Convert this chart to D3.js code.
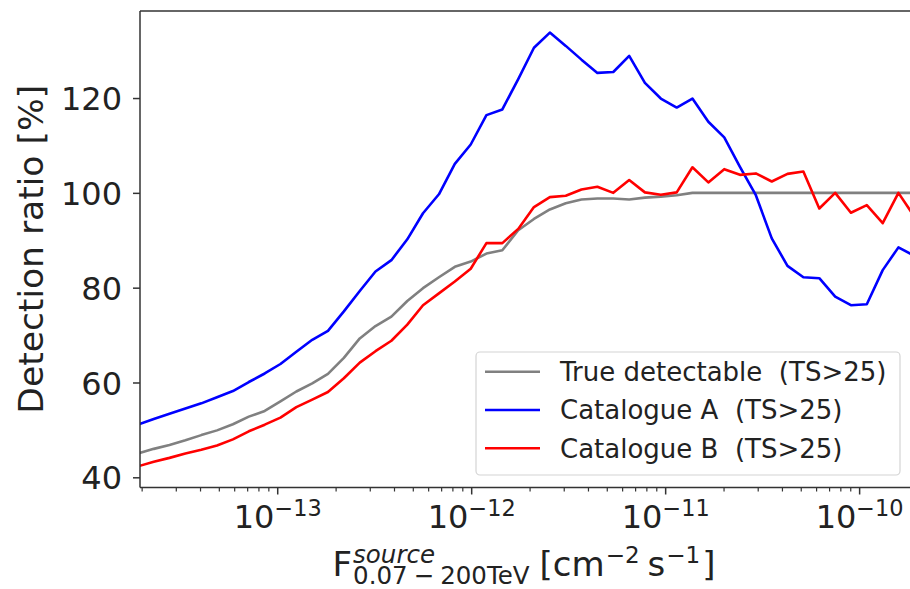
<!DOCTYPE html>
<html>
<head>
<meta charset="utf-8">
<script src="https://cdn.jsdelivr.net/npm/d3@7"></script>
<style>
  html, body { margin: 0; padding: 0; background: #fff; }
  svg { display: block; font-family: "DejaVu Sans", sans-serif; }
</style>
</head>
<body>
<svg id="chart" width="910" height="589"></svg>
<script>
// log10 of the source flux at each sample (cm^-2 s^-1)
const fluxExp = [
  -13.721, -13.639, -13.558, -13.476, -13.394, -13.313, -13.231, -13.149, -13.067, -12.986,
  -12.904, -12.822, -12.741, -12.659, -12.577, -12.496, -12.414, -12.332, -12.251, -12.169,
  -12.087, -12.005, -11.924, -11.842, -11.760, -11.679, -11.597, -11.515, -11.434, -11.352,
  -11.270, -11.188, -11.107, -11.025, -10.943, -10.862, -10.780, -10.698, -10.617, -10.535,
  -10.453, -10.372, -10.290, -10.208, -10.126, -10.045,  -9.963,  -9.881,  -9.800,  -9.718
];

// detection ratio [%]
const trueDetectable = [
  45.0, 46.0, 46.8, 47.8, 48.9, 49.9, 51.2, 52.8, 54.0, 56.0,
  58.1, 59.8, 61.8, 65.2, 69.3, 71.9, 73.9, 77.2, 79.9, 82.2,
  84.4, 85.5, 87.2, 87.9, 92.1, 94.5, 96.5, 97.8, 98.6, 98.8,
  98.8, 98.6, 99.0, 99.2, 99.5, 100, 100, 100, 100, 100,
  100, 100, 100, 100, 100, 100, 100, 100, 100, 100
];
const catalogueA = [
  51.1, 52.3, 53.4, 54.5, 55.6, 56.9, 58.2, 60.1, 61.9, 63.9,
  66.5, 69.0, 70.9, 75.0, 79.3, 83.4, 85.8, 90.2, 95.7, 99.7,
  106.1, 110.2, 116.4, 117.6, 124.0, 130.6, 133.8, 131.0, 128.1, 125.3,
  125.5, 128.9, 123.2, 119.9, 118.0, 119.9, 115.0, 111.7, 105.5, 99.5,
  90.4, 84.6, 82.2, 82.0, 78.1, 76.3, 76.5, 83.7, 88.5, 86.7
];
const catalogueB = [
  42.3, 43.3, 44.1, 45.0, 45.8, 46.7, 48.0, 49.7, 51.1, 52.6,
  54.8, 56.4, 58.0, 60.9, 64.2, 66.6, 68.8, 72.2, 76.3, 78.8,
  81.3, 84.0, 89.4, 89.4, 92.4, 97.0, 99.1, 99.4, 100.7, 101.3,
  100.0, 102.7, 100.1, 99.6, 100.1, 105.4, 102.2, 105.0, 103.8, 104.1,
  102.4, 104.0, 104.5, 96.7, 100.0, 95.8, 97.4, 93.6, 100.0, 95.0
];

const seriesNames = ["True detectable  (TS>25)", "Catalogue A  (TS>25)", "Catalogue B  (TS>25)"];
const seriesColors = ["#808080", "#0000ff", "#ff0000"];
const seriesValues = [trueDetectable, catalogueA, catalogueB];

const yTickValues = [40, 60, 80, 100, 120];
const xMajorExp = [-13, -12, -11, -10];
const xDomainExp = [-13.71, -9.73];
const yDomain = [37.85, 138.36];

const svg = d3.select("#chart");
const plot = { left: 140, top: 11, right: 912, bottom: 487.5 };
const textColor = "#222";
const spineColor = "#333";

const x = d3.scaleLog()
  .domain(xDomainExp.map(e => Math.pow(10, e)))
  .range([plot.left, plot.right]);
const y = d3.scaleLinear().domain(yDomain).range([plot.bottom, plot.top]);

svg.append("defs").append("clipPath").attr("id", "plotClip")
  .append("rect")
  .attr("x", plot.left).attr("y", plot.top)
  .attr("width", plot.right - plot.left).attr("height", plot.bottom - plot.top);

// curves
const line = d3.line()
  .x(d => x(Math.pow(10, d[0])))
  .y(d => y(d[1]));

const curves = svg.append("g").attr("clip-path", "url(#plotClip)");
seriesValues.forEach((vals, i) => {
  curves.append("path")
    .datum(fluxExp.map((e, k) => [e, vals[k]]))
    .attr("d", line)
    .attr("fill", "none")
    .attr("stroke", seriesColors[i])
    .attr("stroke-width", 2.6)
    .attr("stroke-linejoin", "round");
});

// y axis
const yAxis = d3.axisLeft(y).tickValues(yTickValues).tickSize(7).tickPadding(11);
const gy = svg.append("g").attr("transform", `translate(${plot.left},0)`).call(yAxis);
gy.select(".domain").remove();
gy.selectAll(".tick line").attr("stroke", spineColor).attr("stroke-width", 1.5);
gy.selectAll(".tick text")
  .attr("fill", textColor)
  .style("font-size", "32px")
  .style("font-family", "DejaVu Sans")
  .attr("dy", "0.36em");

// x axis: minor ticks at 2..9 x 10^n, majors at decades with 10^n labels
const [xMin, xMax] = x.domain();
const minorTicks = [];
for (let e = -14; e <= -10; e++) {
  for (let m = 2; m <= 9; m++) {
    const v = m * Math.pow(10, e);
    if (v >= xMin && v <= xMax) minorTicks.push(v);
  }
}
const majorTicks = xMajorExp.map(e => Math.pow(10, e));

const gx = svg.append("g");
gx.selectAll("line.minor").data(minorTicks).join("line")
  .attr("class", "minor")
  .attr("x1", d => x(d)).attr("x2", d => x(d))
  .attr("y1", plot.bottom).attr("y2", plot.bottom + 4)
  .attr("stroke", spineColor).attr("stroke-width", 1.2);
gx.selectAll("line.major").data(majorTicks).join("line")
  .attr("class", "major")
  .attr("x1", d => x(d)).attr("x2", d => x(d))
  .attr("y1", plot.bottom).attr("y2", plot.bottom + 7)
  .attr("stroke", spineColor).attr("stroke-width", 1.5);

const xLabels = gx.selectAll("text.xtick").data(xMajorExp).join("text")
  .attr("class", "xtick")
  .attr("x", d => x(Math.pow(10, d)))
  .attr("y", 528)
  .attr("text-anchor", "middle")
  .attr("fill", textColor)
  .style("font-size", "32px");
xLabels.append("tspan").text("10");
xLabels.append("tspan")
  .attr("dy", -12)
  .style("font-size", "22.4px")
  .text(d => "\u2212" + Math.abs(d));

// spines
svg.append("line")
  .attr("x1", plot.left).attr("x2", plot.right)
  .attr("y1", plot.top).attr("y2", plot.top)
  .attr("stroke", spineColor).attr("stroke-width", 1.5);
svg.append("line")
  .attr("x1", plot.left).attr("x2", plot.right)
  .attr("y1", plot.bottom).attr("y2", plot.bottom)
  .attr("stroke", spineColor).attr("stroke-width", 1.5);
svg.append("line")
  .attr("x1", plot.left).attr("x2", plot.left)
  .attr("y1", plot.top).attr("y2", plot.bottom)
  .attr("stroke", spineColor).attr("stroke-width", 1.5);

// y label
svg.append("text")
  .attr("transform", `translate(43,${(plot.top + plot.bottom) / 2}) rotate(-90)`)
  .attr("text-anchor", "middle")
  .attr("fill", textColor)
  .style("font-size", "34.5px")
  .text("Detection ratio [%]");

// x label: one text element; F with stacked super/subscript, then the units
const base = 576, bigFs = 34, smallFs = 24.5, supFs = 23;
const xl = svg.append("text").attr("fill", textColor).style("font-size", bigFs + "px");
const sF = xl.append("tspan").attr("x", 0).attr("y", base).text("F");
let cx = sF.node().getComputedTextLength() + 1;
const sSup = xl.append("tspan").attr("x", cx).attr("y", base - 13)
  .style("font-size", smallFs + "px").style("font-style", "italic").text("source");
const supW = sSup.node().getComputedTextLength();
const subParts = [
  xl.append("tspan").attr("x", cx).attr("y", base + 8).style("font-size", smallFs + "px").text("0.07"),
  xl.append("tspan").attr("dx", 6).style("font-size", smallFs + "px").text("\u2212"),
  xl.append("tspan").attr("dx", 6).style("font-size", smallFs + "px").text("200TeV")
];
const subW = d3.sum(subParts, p => p.node().getComputedTextLength()) + 12;
cx += Math.max(supW, subW) + 10;
xl.append("tspan").attr("x", cx).attr("y", base).text("[cm");
xl.append("tspan").attr("dy", -13).attr("dx", 1).style("font-size", supFs + "px").text("\u22122");
xl.append("tspan").attr("dy", 13).attr("dx", 8).text("s");
xl.append("tspan").attr("dy", -13).attr("dx", 1).style("font-size", supFs + "px").text("\u22121");
xl.append("tspan").attr("dy", 13).attr("dx", 2).text("]");
const bb = xl.node().getBBox();
xl.attr("transform", `translate(${524 - (bb.x + bb.width / 2)},0)`);

// legend
const legend = svg.append("g");
legend.append("rect")
  .attr("x", 476).attr("y", 352).attr("width", 424).attr("height", 123)
  .attr("rx", 4)
  .attr("fill", "#fff").attr("fill-opacity", 0.8)
  .attr("stroke", "#d4d4d4").attr("stroke-width", 1.2);
const rowY = d3.scalePoint().domain(seriesNames).range([371.7, 448.3]);
seriesNames.forEach((name, i) => {
  legend.append("line")
    .attr("x1", 485).attr("x2", 540)
    .attr("y1", rowY(name)).attr("y2", rowY(name))
    .attr("stroke", seriesColors[i]).attr("stroke-width", 2.5);
  legend.append("text")
    .attr("x", 560).attr("y", rowY(name))
    .attr("dy", "0.36em")
    .attr("fill", textColor)
    .style("font-size", "26px")
    .style("white-space", "pre")
    .attr("xml:space", "preserve")
    .text(name);
});
</script>
</body>
</html>
